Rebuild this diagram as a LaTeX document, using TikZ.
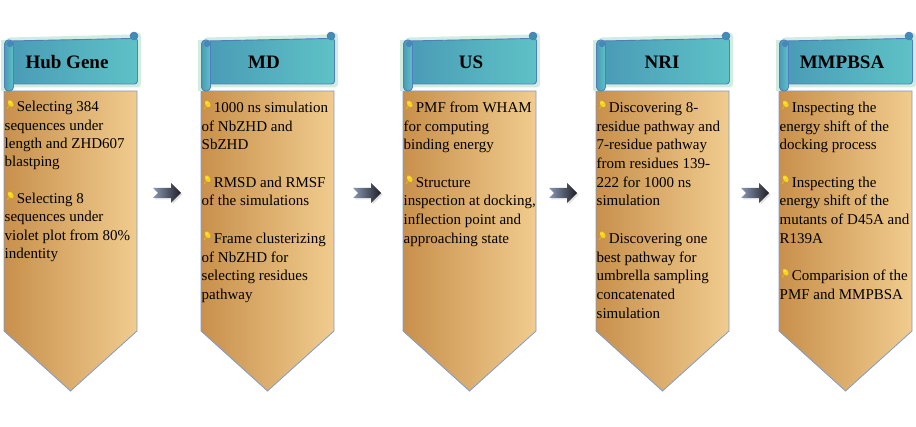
\documentclass[tikz,border=0pt]{standalone}
\usepackage{fontspec}
\setmainfont{Liberation Serif}
\definecolor{tealL}{HTML}{4A9BB6}
\definecolor{tealR}{HTML}{5EC2C6}
\definecolor{tealD}{HTML}{3F8FAE}
\definecolor{bandedge}{HTML}{4F7FBE}
\definecolor{bodyL}{HTML}{C8904C}
\definecolor{bodyR}{HTML}{F0CC8E}
\definecolor{bodyedge}{HTML}{7E9CCC}
\definecolor{pinyel}{HTML}{F5D51C}
\definecolor{pinorg}{HTML}{E2B01A}
\definecolor{arrL}{HTML}{8A98B4}
\definecolor{arrR}{HTML}{1E1E26}
\definecolor{glow}{HTML}{D2ECDF}
\tikzset{
  bodyshape/.style={left color=bodyL, right color=bodyR, draw=bodyedge, line width=0.8pt, line join=miter},
  bandshape/.style={left color=tealL, right color=tealR, draw=bandedge, line width=0.9pt},
  rollshape/.style={fill=tealD, draw=bandedge, line width=0.9pt},
  glowline/.style={draw=glow, line width=7pt, line join=round},
  arrowshape/.style={left color=arrL, right color=arrR},
  arrowshadow/.style={fill=black, opacity=0.12},
  titletext/.style={font=\fontsize{19}{22}\selectfont\bfseries, inner sep=0pt},
  bodytext/.style={font=\fontsize{15}{18}\selectfont, inner sep=0pt, anchor=base west},
}
\newcommand{\pin}{\hspace*{2pt}\tikz[x=1pt,y=1pt,baseline=0pt]{\draw[pinorg,line width=1.1pt,line cap=round] (0.8,3.6) -- (2.8,6.4); \fill[pinyel,rotate around={35:(4.2,8.6)}] (4.2,8.6) ellipse (2.4 and 3.7); \fill[white,opacity=0.6] (3.6,9.6) circle (0.8pt);}\hspace{3pt}}
\newcommand{\flowcol}[4]{%
  \begin{scope}[shift={(#1,0)}]
    \path[bodyshape] (0,91) -- (133,91) -- (133,331) -- (66.5,391) -- (0,331) -- cycle;
    \path[glowline] (6,41) -- (128,38) -- (133.5,36) -- (133.5,84) -- (8,84) -- cycle;
    \path[glowline] (0.5,40) -- (0.5,91);
    \path[bandshape, rounded corners=3pt] (6,41) -- (127,38.5) -- (133.5,38) -- (133.5,84) -- (8,84) -- cycle;
    \path[rollshape] (130,36) circle (3.8pt);
    \path[bandshape, rounded corners=4pt] (0.5,40) rectangle (9.5,91);
    \path[rollshape] (6,44) circle (2.6pt);
    \node[titletext] (#2) at (#4,62) {#3};
  \end{scope}}
\newcommand{\flowarrow}[2]{%
  \path[arrowshadow] (#1+1.5,189.5) -- ++(18,0) -- ++(0,-5) -- ++(10,10) -- ++(-10,10) -- ++(0,-5) -- ++(-18,0) -- ++(5,-5) -- cycle;
  \path[arrowshape] (#1,188) -- ++(18,0) -- ++(0,-5) -- ++(10,10) -- ++(-10,10) -- ++(0,-5) -- ++(-18,0) -- ++(5,-5) -- cycle;
  \coordinate (#2) at (#1+14,193);}
\begin{document}
\begin{tikzpicture}[x=1pt,y=-1pt]
\useasboundingbox (0,0) rectangle (916,427);
\fill[white] (0,0) rectangle (916,427);

\flowcol{4}{hub}{Hub Gene}{63}
\flowcol{201}{md}{MD}{63}
\flowcol{403}{us}{US}{68}
\flowcol{596}{nri}{NRI}{66}
\flowcol{779}{mmpbsa}{MMPBSA}{63}

\flowarrow{153}{a1}
\flowarrow{353}{a2}
\flowarrow{549}{a3}
\flowarrow{741}{a4}

\foreach \i/\t in {0/{\pin Selecting 384},1/sequences under,2/length and ZHD607,3/blastping,
  5/{\pin Selecting 8},6/sequences under,7/violet plot from 80\%,8/indentity}
  \node[bodytext] (hub-\i) at (4.5,{112+\i*18.3}) {\t};

\foreach \i/\t in {0/{\pin 1000 ns simulation},1/of NbZHD and,2/SbZHD,
  4/{\pin RMSD and RMSF},5/of the simulations,
  7/{\pin Frame clusterizing},8/of NbZHD for,9/selecting residues,10/pathway}
  \node[bodytext] (md-\i) at (201.5,{112.5+\i*18.7}) {\t};

\foreach \i/\t in {0/{\pin PMF from WHAM},1/for computing,2/binding energy,
  4/{\pin Structure},5/{inspection at docking,},6/inflection point and,7/approaching state}
  \node[bodytext] (us-\i) at (403.5,{112.5+\i*18.7}) {\t};

\foreach \i/\t in {0/{\pin Discovering 8-},1/residue pathway and,2/7-residue pathway,3/from residues 139-,4/222 for 1000 ns,5/simulation,
  7/{\pin Discovering one},8/best pathway for,9/umbrella sampling,10/concatenated,11/simulation}
  \node[bodytext] (nri-\i) at (596.5,{112.5+\i*18.7}) {\t};

\foreach \i/\t in {0/{\pin Inspecting the},1/energy shift of the,2/docking process,
  4/{\pin Inspecting the},5/energy shift of the,6/mutants of D45A and,7/R139A,
  9/{\pin Comparision of the},10/PMF and MMPBSA}
  \node[bodytext] (mm-\i) at (779.5,{112.5+\i*18.7}) {\t};
\end{tikzpicture}
\end{document}
